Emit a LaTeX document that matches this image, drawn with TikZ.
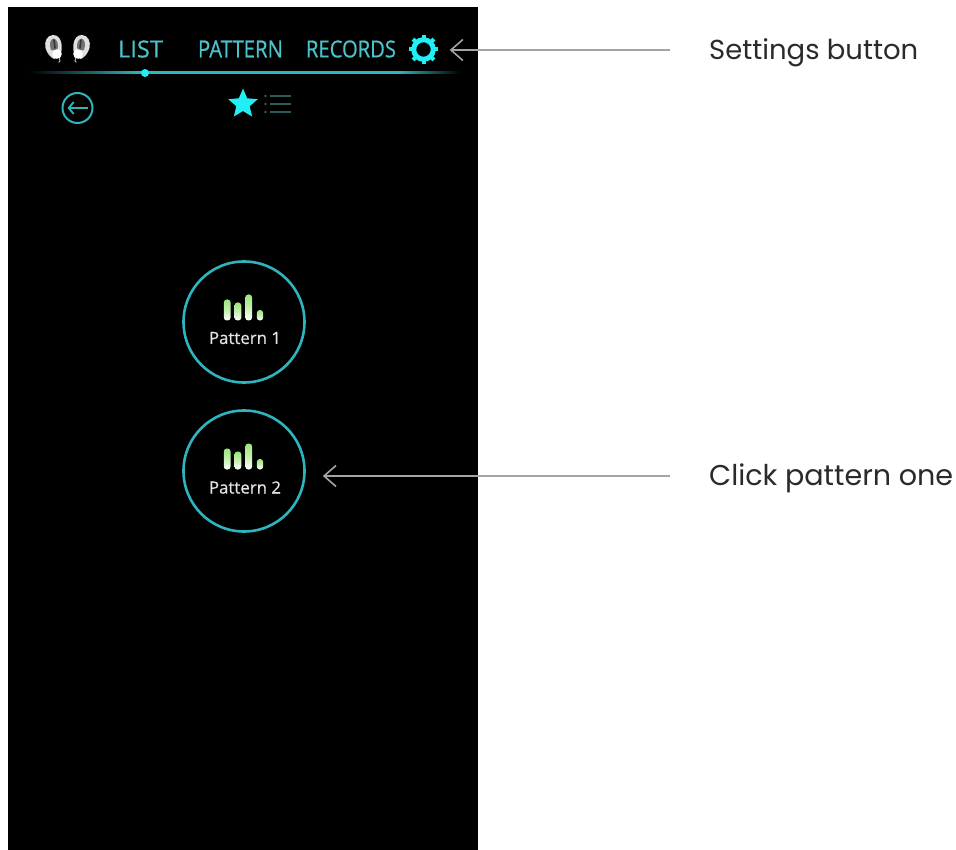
\documentclass[tikz,border=0pt]{standalone}
\usepackage{fontspec}
\setmainfont{Poppins}
\newfontfamily\uifont[FakeBold=0.6]{Open Sans}
\definecolor{tealline}{HTML}{2FB4BE}
\definecolor{tealtext}{HTML}{4CC3CB}
\definecolor{cyanfill}{HTML}{22EEF6}
\definecolor{barleaf}{HTML}{9BE57A}
\definecolor{arrowgray}{HTML}{A4A4A4}
\definecolor{iconline}{HTML}{2E5A58}
\definecolor{labelink}{HTML}{2A2A2A}
\usetikzlibrary{arrows.meta,shapes.geometric}
\pgfdeclarehorizontalshading{tabrulefade}{100bp}{
  color(0bp)=(black); color(25bp)=(black); color(38bp)=(tealline);
  color(68bp)=(tealline); color(75bp)=(black); color(100bp)=(black)}
\tikzset{
  uitext/.style={inner sep=0pt,text=tealtext,font=\uifont},
  ring/.style={circle,draw=tealline,line width=2.6pt,minimum size=121pt,inner sep=0pt},
  patlabel/.style={inner sep=0pt,text=white!90!black,font=\uifont},
  calllabel/.style={inner sep=0pt,anchor=west,text=labelink},
  callarrow/.style={draw=arrowgray,line width=1.6pt,-{Straight Barb[length=12pt,width=21pt,line width=1.6pt]}},
  barshade/.style={top color=barleaf,bottom color=white,middle color=barleaf!60!white,rounded corners=3pt},
  pics/bars/.style={code={
    \shade[barshade] (-20.2,-21) rectangle (-13.4,0);
    \shade[barshade] (-9.5,-18) rectangle (-2.7,0);
    \shade[barshade] (1.3,-26) rectangle (8.1,0);
    \shade[barshade] (12.8,-10.5) rectangle (19.2,0);
  }},
  pics/bud/.style={code={
    \fill[white!88!black] (-4,-19) .. controls (-10,-19) and (-13,-12) .. (-11.5,-6)
      .. controls (-10,-1) and (-7,3) .. (-3,5) -- (0,4) -- (3,2)
      .. controls (6,-4) and (6,-19) .. (-4,-19) -- cycle;
    \fill[white!45!black] (-3.5,-15.5) .. controls (-7,-15) and (-8,-9) .. (-6,-4)
      -- (0,-3) .. controls (2,-8) and (1,-15) .. (-3.5,-15.5) -- cycle;
    \draw[white!70!black,line width=1pt] (2,3) -- (3,7) -- (1.5,8.5);
    \draw[black!80!white,line width=1.6pt,line cap=round] (-3,-14) -- (-2,-6);
    \fill[white] (0,0) circle (4.8);
  }}
}
\begin{document}
\begin{tikzpicture}[x=1pt,y=-1pt]
\useasboundingbox (0,0) rectangle (956,850);
\fill[white] (0,0) rectangle (956,850);
\fill[black] (8,7) rectangle (478,850);

% ear buds
\pic at (57,54) {bud};
\pic[xscale=-1] at (78,54) {bud};

% tab labels
\node[uitext] (tablist) at (140.5,49) {\resizebox{45pt}{17pt}{LIST}};
\node[uitext] (tabpattern) at (240.5,49) {\resizebox{85pt}{17pt}{PATTERN}};
\node[uitext] (tabrecords) at (351,49) {\resizebox{90pt}{17pt}{RECORDS}};

% gear
\node[circle,minimum size=28pt,inner sep=0pt] (gear) at (423.5,49.5) {};
\draw[cyanfill,line width=5pt] (gear.center) circle (9.8);
\foreach \a in {0,45,...,315}
  \draw[cyanfill,line width=4pt] (gear.center) ++(\a:10.5) -- ++(\a:4.2);

% tab rule
\shade[shading=tabrulefade] (28,72) rectangle (460,74);
\node[circle,fill=cyanfill,minimum size=8pt,inner sep=0pt] (tabdot) at (145,73) {};

% back button
\node[circle,draw=tealline,line width=2pt,minimum size=30pt,inner sep=0pt] (back) at (77.5,108) {};
\draw[tealline,line width=1.8pt,-{Straight Barb[length=5pt,width=12pt,line width=1.8pt]}] (88,108) -- (67.5,108);

% favourites star
\node[star,star points=5,star point ratio=2.2,fill=cyanfill,minimum size=31pt,inner sep=0pt] (favstar) at (243,104) {};

% list icon
\foreach \yy in {96,104,112} {
  \fill[iconline] (265.5,\yy) circle (1.3);
  \draw[iconline,line width=1.2pt] (270,\yy) -- (291,\yy);
}

% pattern buttons
\node[ring] (p1) at (244,322) {};
\node[ring] (p2) at (244,471) {};
\pic at (244,320.5) {bars};
\pic at (244,469.5) {bars};
\node[patlabel] (p1text) at (245,338) {\resizebox{72pt}{!}{Pattern 1}};
\node[patlabel] (p2text) at (245,487.5) {\resizebox{72pt}{!}{Pattern 2}};

% callouts
\node[calllabel] (settings) at (709,50) {\raisebox{-2.5pt}[\height][\depth]{\resizebox{209pt}{!}{Settings button}}};
\node[calllabel] (clickone) at (709,476) {\raisebox{-2.5pt}[\height][\depth]{\resizebox{244pt}{!}{Click pattern one}}};
\draw[callarrow,shorten <=39pt] (settings.west) -- ([xshift=12pt]gear.east |- settings.west);
\draw[callarrow,shorten <=39pt] (clickone.west) -- ([xshift=17pt]p2.east |- clickone.west);
\end{tikzpicture}
\end{document}
